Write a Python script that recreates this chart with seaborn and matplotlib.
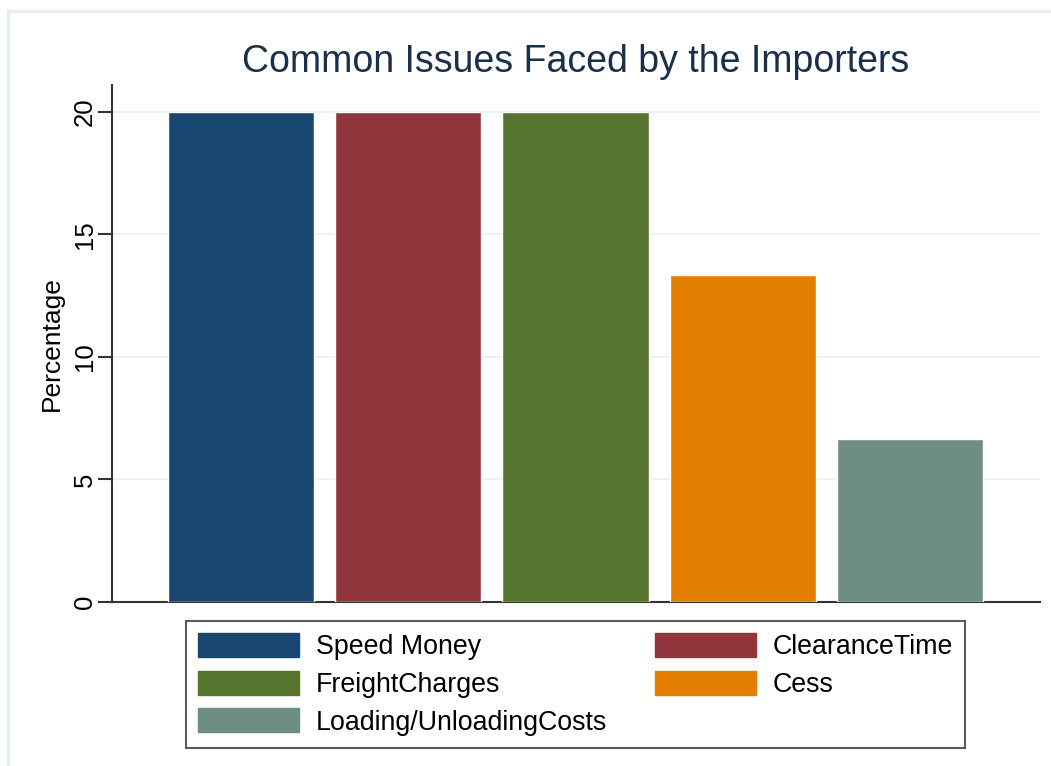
import matplotlib
matplotlib.use("Agg")
import matplotlib.pyplot as plt
import seaborn as sns
import pandas as pd
from matplotlib.patches import Patch, Rectangle

categories = ["Speed Money", "ClearanceTime", "FreightCharges", "Cess", "Loading/UnloadingCosts"]
values = [20.0, 20.0, 20.0, 13.33, 6.67]
colors = ["#1a476f", "#90353b", "#55752f", "#e37e00", "#6e8e84"]
yticks = [0, 5, 10, 15, 20]

sns.set_theme(style="white")
plt.rcParams["font.family"] = ["Liberation Sans", "DejaVu Sans"]
plt.rcParams["text.color"] = "black"
plt.rcParams["axes.labelcolor"] = "black"
plt.rcParams["ytick.color"] = "#333333"
plt.rcParams["ytick.labelcolor"] = "black"

fig = plt.figure(figsize=(10.51, 7.66), dpi=100)
fig.patch.set_facecolor("white")
fig.patches.append(Rectangle((8/1051, -20/766), 1100/1051, 775/766, transform=fig.transFigure,
                             fill=False, edgecolor="#e6eef0", linewidth=2.5, zorder=0))

ax = fig.add_axes([112/1051, 164/766, 928/1051, 517/766])
df = pd.DataFrame({"cat": categories, "val": values})
sns.barplot(data=df, x="cat", y="val", hue="cat", palette=colors, width=0.874,
            dodge=False, legend=False, ax=ax, saturation=1, zorder=3)

ax.set_xlim(-0.772, 4.778)
ax.set_ylim(0, 21.1)
ax.set_yticks(yticks)
ax.set_yticklabels([str(t) for t in yticks], rotation=90, va="center", fontsize=18.5)
ax.set_xticks([])
ax.set_xlabel("")
ax.set_ylabel("Percentage", fontsize=19, labelpad=6.5)
ax.yaxis.grid(True, color="#eaf2f3", linewidth=1.5, zorder=0)
ax.set_axisbelow(True)
for s in ["top", "right"]:
    ax.spines[s].set_visible(False)
for s in ["left", "bottom"]:
    ax.spines[s].set_color("#333333")
    ax.spines[s].set_linewidth(1.5)
ax.tick_params(axis="y", left=True, length=10, width=1.5, color="#333333", pad=1)

fig.text(575.5/1051, (766-62)/766, "Common Issues Faced by the Importers", ha="center", va="center",
         fontsize=27, color="#1a2f4a")

order = [0, 2, 4, 1, 3]
handles = [Patch(facecolor=colors[i], edgecolor=colors[i]) for i in order]
labels = [categories[i] for i in order]
leg = fig.legend(handles, labels, ncol=2, loc="upper center",
                 bbox_to_anchor=(575.5/1051, (766-621)/766),
                 fontsize=19.3, handlelength=3.75, handleheight=1.0, handletextpad=0.63,
                 labelspacing=0.39, borderpad=0.45, columnspacing=1.8, frameon=True,
                 fancybox=False, borderaxespad=0)
leg.get_frame().set_edgecolor("#333333")
leg.get_frame().set_linewidth(1.5)

fig.savefig("out.png", dpi=100, facecolor="white")
